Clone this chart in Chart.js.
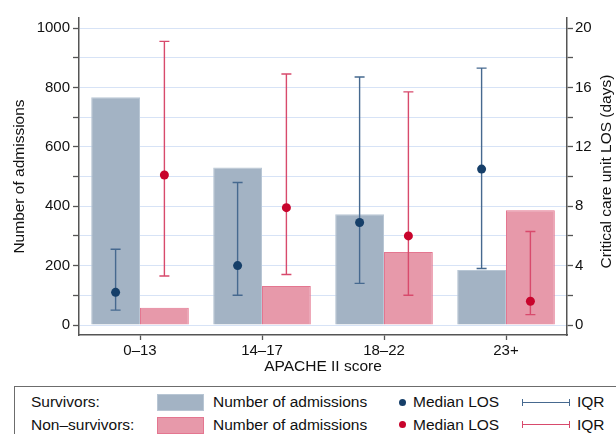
<!DOCTYPE html>
<html>
<head>
<meta charset="utf-8">
<script src="https://cdn.jsdelivr.net/npm/chart.js@4.4.1/dist/chart.umd.min.js"></script>
<style>
  html, body { margin: 0; padding: 0; background: #fff; }
  #wrap { position: relative; width: 616px; height: 434px; overflow: hidden; font-family: "Liberation Sans", Arial, sans-serif; color: #111; }
  #chart { position: absolute; left: 0; top: 0; }
  #legend { position: absolute; left: 14px; top: 386px; width: 640px; height: 80px; border: 1px solid #6c6c6c; }
  .lg { position: absolute; font-size: 15.5px; height: 20px; line-height: 20px; white-space: nowrap; }
  .sw { position: absolute; width: 45px; height: 15px; }
  .dot { position: absolute; width: 7px; height: 7px; border-radius: 50%; }
  .iqr { position: absolute; height: 7px; border-left: 1.5px solid; border-right: 1.5px solid; }
  .iqr::after { content: ""; position: absolute; left: 0; right: 0; top: 3px; border-top: 1.5px solid; border-color: inherit; }
</style>
</head>
<body>
<div id="wrap">
  <canvas id="chart" width="616" height="380"></canvas>
  <div id="legend"></div>
</div>
<script>
const categories = ["0\u201313", "14\u201317", "18\u201322", "23+"];

// number of admissions (left axis)
const survivorAdmissions = [767, 530, 373, 185];
const nonSurvivorAdmissions = [58, 131, 246, 386];

// critical care unit LOS in days (right axis)
const survivorMedian = [2.2, 4.0, 6.9, 10.5];
const survivorQ1 = [1.0, 2.0, 2.8, 3.8];
const survivorQ3 = [5.1, 9.6, 16.7, 17.3];
const nonSurvivorMedian = [10.1, 7.9, 6.0, 1.6];
const nonSurvivorQ1 = [3.3, 3.4, 2.0, 0.7];
const nonSurvivorQ3 = [19.1, 16.9, 15.7, 6.3];

const admissionTicks = [0, 200, 400, 600, 800, 1000];
const losTicks = [0, 4, 8, 12, 16, 20];

const groupLabels = ["Survivors:", "Non\u2013survivors:"];
const rightTitle = "Critical care unit LOS (days)";

const colors = {
  survBar: "#a3b3c4", survBorder: "#b8c6d4", survDot: "#163f69", survLine: "#46698f",
  nonBar: "#e799aa", nonBorder: "#e47690", nonDot: "#c8042c", nonLine: "#d84a6c",
  grid: "#d7e3f6", axis: "#555555",
};

const losGroups = [
  { median: survivorMedian, q1: survivorQ1, q3: survivorQ3, dot: colors.survDot, line: colors.survLine },
  { median: nonSurvivorMedian, q1: nonSurvivorQ1, q3: nonSurvivorQ3, dot: colors.nonDot, line: colors.nonLine },
];

// medians + IQR drawn at the bar centres on the right axis
const iqrPlugin = {
  id: "iqr",
  afterDatasetsDraw(chart) {
    const ctx = chart.ctx;
    const y1 = chart.scales.y1;
    losGroups.forEach((g, di) => {
      const meta = chart.getDatasetMeta(di);
      meta.data.forEach((bar, i) => {
        const x = bar.x;
        const top = y1.getPixelForValue(g.q3[i]);
        const bot = y1.getPixelForValue(g.q1[i]);
        ctx.save();
        ctx.strokeStyle = g.line;
        ctx.lineWidth = 1.4;
        ctx.beginPath();
        ctx.moveTo(x, top); ctx.lineTo(x, bot);
        ctx.moveTo(x - 5, top); ctx.lineTo(x + 5, top);
        ctx.moveTo(x - 5, bot); ctx.lineTo(x + 5, bot);
        ctx.stroke();
        ctx.fillStyle = g.dot;
        ctx.beginPath();
        ctx.arc(x, y1.getPixelForValue(g.median[i]), 4.5, 0, Math.PI * 2);
        ctx.fill();
        ctx.restore();
      });
    });
  },
  // right title reads bottom-to-top like the left one
  afterDraw(chart) {
    const ctx = chart.ctx;
    const a = chart.chartArea;
    ctx.save();
    ctx.translate(607, (a.top + a.bottom) / 2 - 5);
    ctx.rotate(-Math.PI / 2);
    ctx.font = '15.5px "Liberation Sans", Arial, sans-serif';
    ctx.fillStyle = "#111";
    ctx.textAlign = "center";
    ctx.textBaseline = "middle";
    ctx.fillText(rightTitle, 0, 0);
    ctx.restore();
  },
};

Chart.defaults.font.family = '"Liberation Sans", Arial, sans-serif';
Chart.defaults.color = "#111";

const pad = 10 / 0.297; // axis extends a little past 0 and 1000

new Chart(document.getElementById("chart"), {
  type: "bar",
  data: {
    labels: categories,
    datasets: [
      {
        label: "Survivors",
        data: survivorAdmissions,
        backgroundColor: colors.survBar,
        borderColor: colors.survBorder,
        borderWidth: 1,
        yAxisID: "y",
      },
      {
        label: "Non-survivors",
        data: nonSurvivorAdmissions,
        backgroundColor: colors.nonBar,
        borderColor: colors.nonBorder,
        borderWidth: 1,
        yAxisID: "y",
      },
    ],
  },
  options: {
    responsive: false,
    animation: false,
    categoryPercentage: 0.8,
    barPercentage: 1.0,
    layout: { padding: { top: 18, left: 0, right: 0, bottom: 0 } },
    plugins: { legend: { display: false }, tooltip: { enabled: false } },
    scales: {
      x: {
        offset: true,
        grid: { display: true, drawOnChartArea: false, offset: false, tickLength: 5, tickColor: colors.axis, tickWidth: 1.3 },
        border: { color: colors.axis, width: 1.5 },
        ticks: { font: { size: 15 }, padding: 2, maxRotation: 0 },
        title: { display: true, text: "APACHE II score", font: { size: 15.5 }, padding: 4 },
        afterFit: (s) => { s.height = 45; },
      },
      y: {
        position: "left",
        min: -pad,
        max: 1000 + pad,
        grid: { color: colors.grid, lineWidth: 1, tickLength: 6, tickColor: colors.axis, tickWidth: 1.3 },
        border: { color: colors.axis, width: 1.5 },
        ticks: {
          stepSize: 100,
          includeBounds: false,
          padding: 3,
          font: { size: 15 },
          callback: (v) => (admissionTicks.includes(v) ? String(v) : ""),
        },
        title: { display: true, text: "Number of admissions", font: { size: 15.5 }, padding: 10 },
        afterFit: (s) => { s.width = 79; },
      },
      y1: {
        position: "right",
        min: -pad / 50,
        max: 20 + pad / 50,
        grid: { drawOnChartArea: false, tickLength: 6, tickColor: colors.axis, tickWidth: 1.3 },
        border: { color: colors.axis, width: 1.5 },
        ticks: {
          stepSize: 2,
          includeBounds: false,
          padding: 2,
          font: { size: 15 },
          callback: (v) => (losTicks.includes(v) ? String(v) : ""),
        },
        title: { display: false },
        afterFit: (s) => { s.width = 49; },
      },
    },
  },
  plugins: [iqrPlugin],
});

// legend: two rows, bar swatch / median dot / IQR whisker
const legend = document.getElementById("legend");
const rowCenters = [15, 37.5];
const swatches = [
  { bar: colors.survBar, border: colors.survBorder, dot: colors.survDot, line: colors.survLine },
  { bar: colors.nonBar, border: colors.nonBorder, dot: colors.nonDot, line: colors.nonLine },
];
function add(cls, left, top, text, style) {
  const el = document.createElement("div");
  el.className = cls;
  el.style.left = left + "px";
  el.style.top = top + "px";
  if (text) el.textContent = text;
  Object.assign(el.style, style || {});
  legend.appendChild(el);
}
groupLabels.forEach((g, r) => {
  const c = rowCenters[r];
  const s = swatches[r];
  add("lg", 16, c - 10, g);
  add("sw", 142, c - 8, "", { background: s.bar, border: "1px solid " + s.border });
  add("lg", 198, c - 10, "Number of admissions");
  add("dot", 384, c - 3.5, "", { background: s.dot });
  add("lg", 398, c - 10, "Median LOS");
  add("iqr", 507, c - 3.5, "", { width: "46px", borderColor: s.line });
  add("lg", 562, c - 10, "IQR");
});
</script>
</body>
</html>
